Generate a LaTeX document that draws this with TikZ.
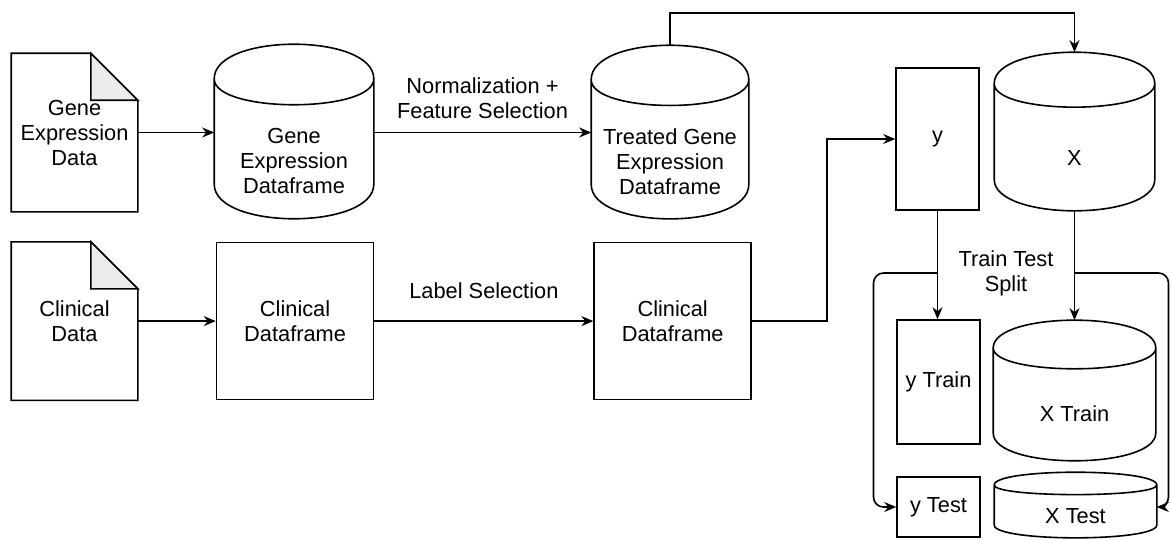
\documentclass[tikz,border=0pt]{standalone}
\usepackage{fontspec}
\setmainfont{Liberation Sans}
\usepackage{tikz}
\usetikzlibrary{arrows.meta,positioning,calc}
\definecolor{foldgray}{RGB}{235,235,235}
\newcommand{\dfont}{\fontsize{21.8}{25}\selectfont}

\begin{document}
\begin{tikzpicture}[
  x=1pt, y=1pt,
  >={Stealth[length=12pt,width=10pt]},
  line width=1.6pt,
  every node/.style={font=\dfont},
  doc/.style={rectangle, align=center, minimum width=125pt, minimum height=157pt, inner sep=0pt},
  frame/.style={rectangle, draw, align=center, minimum width=157pt, minimum height=157pt, inner sep=0pt},
  db/.style={rectangle, align=center, inner sep=0pt},
  lbl/.style={align=center, inner sep=0pt}
]
\useasboundingbox (0,0) rectangle (1171,-539);

% sources
\node[doc] (gedata) at (74.5,-132.5) {Gene\\Expression\\Data};
\node[doc, below=30pt of gedata] (clindata) {Clinical\\Data};

% dataframes
\node[db, minimum width=158pt, minimum height=93.4pt] (gedf) at (294,-160.9) {Gene\\Expression\\Dataframe};
\node[frame, right=78pt of clindata] (clindf) {Clinical\\Dataframe};
\node[db, minimum width=156pt, minimum height=92.9pt] (treated) at (670,-161.3) {Treated Gene\\Expression\\Dataframe};
\node[frame, right=219pt of clindf] (clindf2) {Clinical\\Dataframe};

% model inputs
\node[frame, minimum width=83pt, minimum height=142pt] (yvec) at (937.5,-139) {y};
\node[db, minimum width=159pt, minimum height=84.8pt] (X) at (1074.5,-158.2) {X};
\node[frame, minimum width=83pt, minimum height=124pt] (ytrain) at (938.5,-382) {y Train};
\node[db, minimum width=161pt, minimum height=75.1pt] (Xtrain) at (1074.5,-414.1) {X Train};
\node[frame, minimum width=83pt, minimum height=60pt] (ytest) at (938.5,-507) {y Test};
\node[db, minimum width=161pt, minimum height=34.6pt] (Xtest) at (1075.5,-515.9) {X Test};

% document outlines
\foreach \nm in {gedata, clindata}{
  \draw (\nm.north west) -- ([xshift=-47]\nm.north east) -- ([yshift=-47]\nm.north east)
    -- (\nm.south east) -- (\nm.south west) -- cycle;
  \draw[fill=foldgray] ([xshift=-47]\nm.north east) |- ([yshift=-47]\nm.north east) -- cycle;
}

% cylinder outlines
\foreach \nm/\rr in {gedf/34.6, treated/34.4, X/31.4, Xtrain/27.8, Xtest/12.8}{
  \coordinate (\nm-top) at ([yshift=2*\rr]\nm.north);
  \coordinate (\nm-bot) at ([yshift=-0.3*\rr]\nm.south);
  \draw let \p1=(\nm.north west), \p2=(\nm.south east) in
    (\x1,\y1+\rr) .. controls (\x1,\y1+2.333*\rr) and (\x2,\y1+2.333*\rr) .. (\x2,\y1+\rr)
    -- (\x2,\y2+0.7*\rr) .. controls (\x2,\y2-0.633*\rr) and (\x1,\y2-0.633*\rr) .. (\x1,\y2+0.7*\rr) -- cycle
    (\x1,\y1+\rr) .. controls (\x1,\y1) and (\x2,\y1) .. (\x2,\y1+\rr);
}

\draw[->] (gedata.east) -- (gedata.east -| gedf.west);
\draw[->] (clindata) -- (clindf);
\draw[->] (gedata.east -| gedf.east) -- node[lbl, above=13pt] (normlbl) {Normalization +\\Feature Selection} (gedata.east -| treated.west);
\draw[->] (clindf) -- node[lbl, above=22pt] (labsel) {Label Selection} (clindf2);
\draw[->] (treated-top) -- ++(0,32) -| (X-top);
\draw[->] (clindf2.east) -- ++(75,0) |- (yvec.west);
\draw[->] (yvec.south) -- (yvec.south |- ytrain.north);
\draw[->] (X-bot) -- (Xtrain-top);

% train test split
\coordinate (ysplit) at (yvec.south |- 0,-273);
\coordinate (xsplit) at (X.south |- 0,-273);
\node[lbl] (split) at ($(ysplit)!0.5!(xsplit)$) {Train Test\\Split};
\draw[->, rounded corners=10pt] (ysplit) -- ++(-64,0) |- (ytest.west);
\draw[->, rounded corners=10pt] (xsplit) -- ++(94,0) |- (ytest.west -| Xtest.east);
\end{tikzpicture}
\end{document}
